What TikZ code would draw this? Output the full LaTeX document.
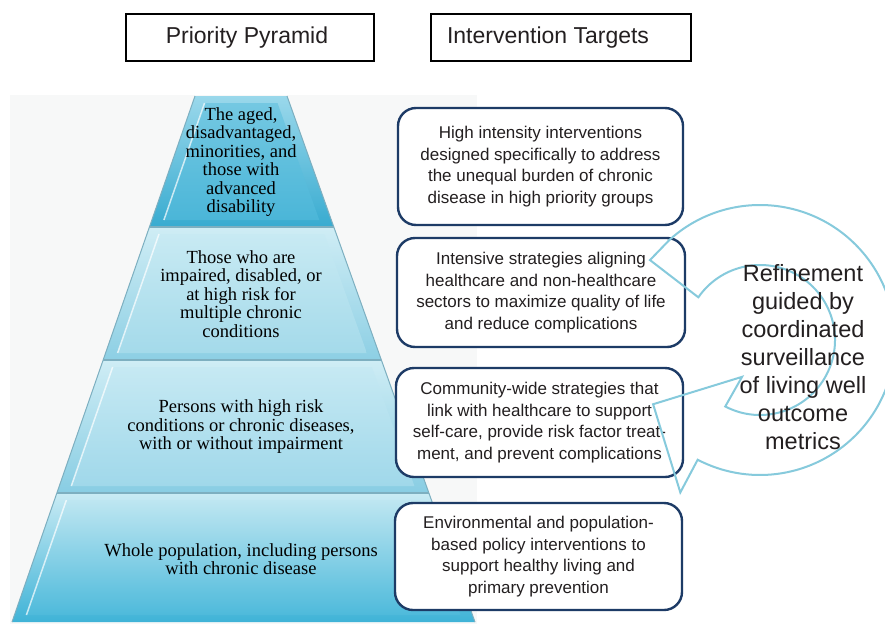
\documentclass[tikz,border=0pt]{standalone}
\usepackage{fontspec}
\setmainfont{Liberation Sans}
\newfontfamily\pyrfont{Liberation Serif}
\usetikzlibrary{calc}
\definecolor{navy}{HTML}{1D3B66}
\definecolor{panel}{HTML}{F7F8F8}
\definecolor{ringblue}{HTML}{86CADC}
\definecolor{sepline}{HTML}{7DAFC0}
\definecolor{txtgray}{HTML}{231F20}
\definecolor{ta1}{HTML}{9AD8EB}\definecolor{tb1}{HTML}{38ABD0}
\definecolor{ia1}{HTML}{74C8E2}\definecolor{ib1}{HTML}{4BB6D8}
\definecolor{ta2}{HTML}{CFEDF5}\definecolor{tb2}{HTML}{8DCFE4}
\definecolor{ia2}{HTML}{C8EAF3}\definecolor{ib2}{HTML}{A4DAEA}
\definecolor{ta3}{HTML}{CFEDF5}\definecolor{tb3}{HTML}{88CDE3}
\definecolor{ia3}{HTML}{C6E9F3}\definecolor{ib3}{HTML}{A0D8EA}
\definecolor{ta4}{HTML}{C9EBF4}\definecolor{tb4}{HTML}{3FB3D7}
\definecolor{ia4}{HTML}{BEE6F1}\definecolor{ib4}{HTML}{4EBADB}
\tikzset{
  header/.style={draw=black, line width=1.4pt, fill=white, font=\fontsize{23}{27}\selectfont, text=txtgray},
  target/.style={draw=navy, line width=2.4pt, rounded corners=18pt, fill=white, align=center,
    font=\fontsize{17}{21.5}\selectfont, text=txtgray},
  tiertext/.style={align=center, font=\pyrfont\fontsize{18.5}{18.5}\selectfont, text=black},
  ringtext/.style={align=center, font=\fontsize{23.5}{28}\selectfont, text=txtgray},
  ring/.style={draw=ringblue, line width=2pt, line join=miter},
  hilite/.style={white, opacity=0.7, line width=1.5pt},
}
\begin{document}
\begin{tikzpicture}[x=1pt,y=1pt]
\useasboundingbox (0,0) rectangle (885,-624);
\fill[white] (0,0) rectangle (885,-624);
\fill[panel] (10,-95) rectangle (477,-624);

% tier 1
\shade[top color=ta1, bottom color=tb1] (195,-96) -- (287,-96) -- (333.8,-227) -- (149.4,-227) -- cycle;
\shade[top color=ia1, bottom color=ib1] (204.6,-103) -- (277.5,-103) -- (319.3,-220) -- (163.9,-220) -- cycle;
% tier 2
\shade[top color=ta2, bottom color=tb2] (149.4,-227) -- (333.8,-227) -- (381.4,-360) -- (103.2,-360) -- cycle;
\shade[top color=ia2, bottom color=ib2] (159,-234) -- (324.3,-234) -- (366.9,-353) -- (117.6,-353) -- cycle;
% tier 3
\shade[top color=ta3, bottom color=tb3] (103.2,-360) -- (381.4,-360) -- (428.9,-493) -- (56.9,-493) -- cycle;
\shade[top color=ia3, bottom color=ib3] (112.7,-367) -- (371.9,-367) -- (414.4,-486) -- (71.3,-486) -- cycle;
% tier 4
\shade[top color=ta4, bottom color=tb4] (56.9,-493) -- (428.9,-493) -- (475,-622) -- (12,-622) -- cycle;
\shade[top color=ia4, bottom color=ib4] (66.4,-500) -- (419.4,-500) -- (460.5,-615) -- (26.4,-615) -- cycle;

% highlights on left bevels
\draw[hilite] (204.6,-103) -- (163.9,-220);
\draw[hilite] (159,-234) -- (117.6,-353);
\draw[hilite] (112.7,-367) -- (71.3,-486);
\draw[hilite] (66.4,-500) -- (26.4,-615);
% separators
\draw[sepline, line width=2pt] (149.4,-227) -- (333.8,-227);
\draw[sepline, line width=2pt] (103.2,-360) -- (381.4,-360);
\draw[sepline, line width=2pt] (56.9,-493) -- (428.9,-493);
\draw[sepline, line width=1pt] (195,-96) -- (12,-622);
\draw[sepline, line width=1pt] (287,-96) -- (475,-622);

% pyramid texts
\node[tiertext] (t1) at (241,-162) {The aged,\\disadvantaged,\\minorities, and\\those with\\advanced\\disability};
\node[tiertext] (t2) at (241,-294) {Those who are\\impaired, disabled, or\\at high risk for\\multiple chronic\\conditions};
\node[tiertext] (t3) at (241,-427) {Persons with high risk\\conditions or chronic diseases,\\with or without impairment};
\node[tiertext] (t4) at (241,-559) {Whole population, including persons\\with chronic disease};

% headers
\node[header, minimum width=248pt, minimum height=47pt] (h1) at (250,-37.5) {\hspace*{-6pt}Priority Pyramid};
\node[header, minimum width=260pt, minimum height=47pt] (h2) at (561,-37.5) {\hspace*{-26pt}Intervention Targets};

% target boxes
\node[target, minimum width=285pt, minimum height=117pt] (b1) at (540.5,-166.5)
  {High intensity interventions\\designed specifically to address\\the unequal burden of chronic\\disease in high priority groups};
\node[target, minimum width=288pt, minimum height=109pt] (b2) at (541,-292.5)
  {Intensive strategies aligning\\healthcare and non-healthcare\\sectors to maximize quality of life\\and reduce complications};
\node[target, minimum width=287pt, minimum height=109pt] (b3) at (539.5,-422.5)
  {Community-wide strategies that\\link with healthcare to support\\self-care, provide risk factor treat-\\ment, and prevent complications};
\node[target, minimum width=287pt, minimum height=107pt] (b4) at (538.5,-556.5)
  {Environmental and population-\\based policy interventions to\\support healthy living and\\primary prevention};

% circular arrow
\begin{scope}[shift={(760,-340)}]
\draw[ring] (132:135) arc[start angle=132, end angle=-117.5, radius=135]
  -- (-117.6:172) -- (-149:124.7) -- (-116:41) -- (-117.6:75)
  arc[start angle=-117.6, end angle=145.3, radius=75]
  -- (144:136) -- cycle;
\end{scope}
\node[ringtext] (r) at (803,-357) {Refinement\\guided by\\coordinated\\surveillance\\of living well\\outcome\\metrics};
\end{tikzpicture}
\end{document}
